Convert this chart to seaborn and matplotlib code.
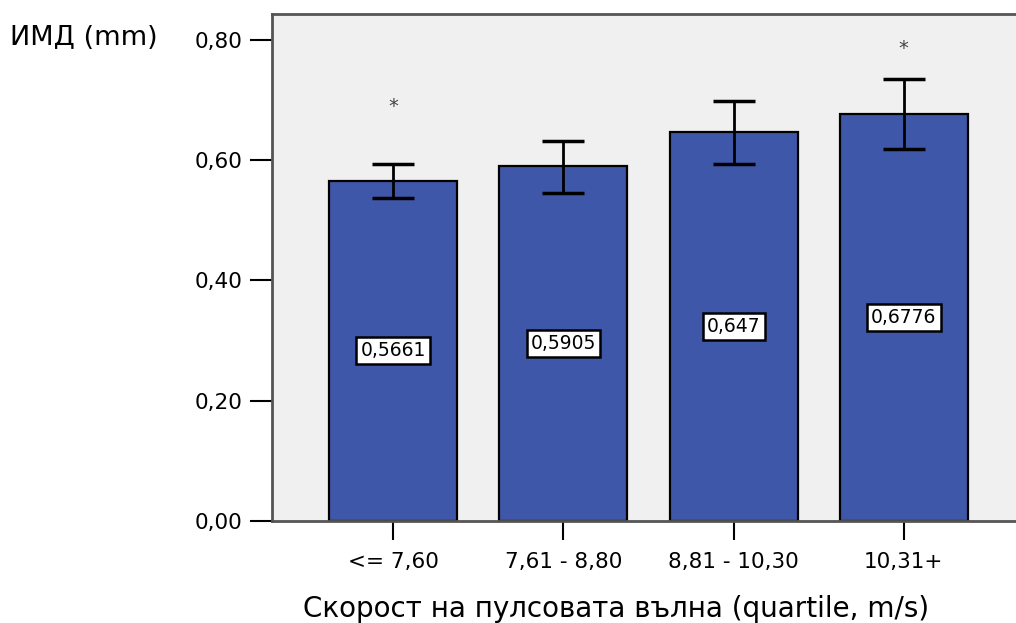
import numpy as np
import pandas as pd
import seaborn as sns
import matplotlib
matplotlib.use("Agg")
import matplotlib.pyplot as plt

categories = ['<= 7,60', '7,61 - 8,80', '8,81 - 10,30', '10,31+']
means = [0.5661, 0.5905, 0.647, 0.6776]
ci_low = [0.538, 0.546, 0.593, 0.618]
ci_high = [0.593, 0.632, 0.699, 0.735]
value_labels = ['0,5661', '0,5905', '0,647', '0,6776']
star_y = [0.69, None, None, 0.786]

sns.set_style("white")
plt.rcParams['font.family'] = ['DejaVu Sans']
plt.rcParams['text.color'] = 'black'

df = pd.DataFrame({'group': categories, 'imd': means})

fig = plt.figure(figsize=(10.16, 6.23), dpi=100)
ax = fig.add_axes([272 / 1016, 102 / 623, (1025 - 272) / 1016, (521 - 14) / 623])
ax.set_facecolor('#F0F0F0')

sns.barplot(data=df, x='group', y='imd', color='#3F57A9', saturation=1,
            width=0.753, edgecolor='black', linewidth=1.6, errorbar=None, ax=ax)

xpos = np.arange(len(categories))
lower = np.array(means) - np.array(ci_low)
upper = np.array(ci_high) - np.array(means)
ax.errorbar(xpos, means, yerr=[lower, upper], fmt='none', ecolor='black',
            elinewidth=2, capsize=15, capthick=2.5, zorder=5)

for i, lab in enumerate(value_labels):
    ax.text(xpos[i], means[i] / 2, lab, ha='center', va='center', fontsize=13.5,
            color='black',
            bbox=dict(boxstyle='square,pad=0.22', facecolor='white',
                      edgecolor='black', linewidth=1.8), zorder=6)

for i, s in enumerate(star_y):
    if s is not None:
        ax.text(xpos[i], s, '*', ha='center', va='center', fontsize=14, color='#444444')

ax.set_xlim(-0.712, 3.712)
ax.set_ylim(0, 0.8432)
ax.set_yticks([0, 0.2, 0.4, 0.6, 0.8])
ax.set_yticklabels(['0,00', '0,20', '0,40', '0,60', '0,80'])
ax.set_xticks(xpos)
ax.set_xticklabels(categories)
ax.tick_params(axis='y', direction='out', length=16, width=1.5, pad=5,
               labelsize=15.5, left=True, color='black', labelcolor='black')
ax.tick_params(axis='x', direction='out', length=14, width=1.5, pad=8,
               labelsize=15.5, bottom=True, color='black', labelcolor='black')

for side in ['left', 'top', 'bottom']:
    ax.spines[side].set_visible(True)
    ax.spines[side].set_color('#555555')
    ax.spines[side].set_linewidth(2)
ax.spines['right'].set_visible(False)

ax.set_xlabel('Скорост на пулсовата вълна (quartile, m/s)', fontsize=20,
              labelpad=12, color='black')
ax.xaxis.set_label_coords((616 - 272) / (1025 - 272), -0.145)
ax.set_ylabel('')
fig.text(10 / 1016, 1 - 38 / 623, 'ИМД (mm)', ha='left', va='center', fontsize=19.5,
         color='black')

fig.savefig('out.png', dpi=100, facecolor='white')
